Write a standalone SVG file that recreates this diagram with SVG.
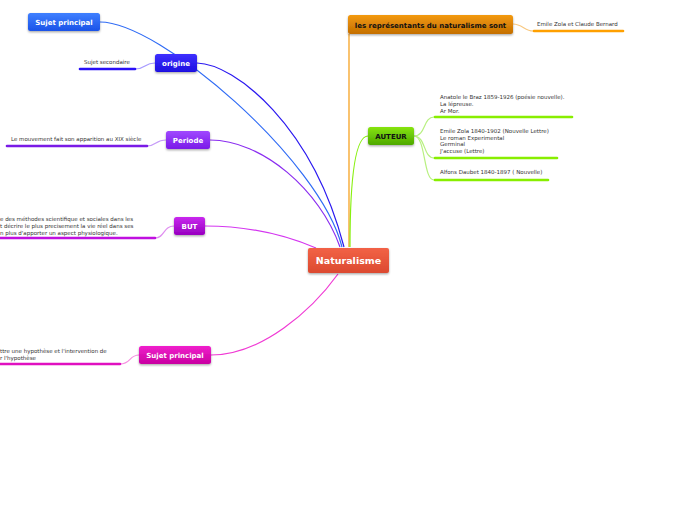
<svg xmlns="http://www.w3.org/2000/svg" width="696" height="520" viewBox="0 0 696 520">
<defs>
<filter id="sh" x="-20%" y="-30%" width="140%" height="170%"><feDropShadow dx="0" dy="1.2" stdDeviation="0.9" flood-color="#000" flood-opacity="0.35"/></filter>
<linearGradient id="gBlue" x1="0" y1="0" x2="0" y2="1"><stop offset="0" stop-color="#3f80ff"/><stop offset="1" stop-color="#1a52e8"/></linearGradient>
<linearGradient id="gOri" x1="0" y1="0" x2="0" y2="1"><stop offset="0" stop-color="#3d30ff"/><stop offset="1" stop-color="#1d0fe0"/></linearGradient>
<linearGradient id="gPer" x1="0" y1="0" x2="0" y2="1"><stop offset="0" stop-color="#a048ff"/><stop offset="1" stop-color="#7a1ae8"/></linearGradient>
<linearGradient id="gBut" x1="0" y1="0" x2="0" y2="1"><stop offset="0" stop-color="#c828ee"/><stop offset="1" stop-color="#9800c0"/></linearGradient>
<linearGradient id="gSp" x1="0" y1="0" x2="0" y2="1"><stop offset="0" stop-color="#f020cc"/><stop offset="1" stop-color="#c800a0"/></linearGradient>
<linearGradient id="gOr" x1="0" y1="0" x2="0" y2="1"><stop offset="0" stop-color="#f39a10"/><stop offset="1" stop-color="#c46e00"/></linearGradient>
<linearGradient id="gGr" x1="0" y1="0" x2="0" y2="1"><stop offset="0" stop-color="#86e410"/><stop offset="1" stop-color="#4ea800"/></linearGradient>
<linearGradient id="gNat" x1="0" y1="0" x2="0" y2="1"><stop offset="0" stop-color="#f26246"/><stop offset="1" stop-color="#dc4a30"/></linearGradient>
</defs>
<style>
.nt{font-family:"DejaVu Sans","Liberation Sans",sans-serif;font-weight:bold;font-size:7px;fill:#fff;text-anchor:middle}
.big{font-size:9.5px}
.nd{fill:#111}
.sm{font-family:"DejaVu Sans","Liberation Sans",sans-serif;font-size:5.5px;fill:#333}
.c{fill:none;stroke-width:1.2}
.ul{fill:none;stroke-width:2.6;stroke-linecap:round}
</style>
<rect width="696" height="520" fill="#fff"/>
<g id="connectors">
<path class="c" stroke="#2f6bf5" d="M100,22 C160,22 320,160 342,247"/>
<path class="c" stroke="#2a18f0" stroke-width="1.5" d="M197,63 C235,64 312,125 344,247"/>
<path class="c" stroke="#8a2cf0" d="M210,140 C262,140 320,190 340,247"/>
<path class="c" stroke="#d436f0" d="M205,226 C250,226 288,236 316,248"/>
<path class="c" stroke="#f03ad4" d="M211,355 C262,355 312,310 338,274"/>
<path class="c" stroke="#f59a10" d="M349,34 L349,247"/>
<path class="c" stroke="#88f010" d="M368,136 C355,136 350,180 350,247"/>
<path class="c" stroke="#a89cff" d="M155,63 C144,63 146,69 135,69"/>
<path class="c" stroke="#c69cf8" d="M166,140 C155,140 157,146 147,146"/>
<path class="c" stroke="#e090f0" d="M174,226 C163,226 165,238 155,238"/>
<path class="c" stroke="#f590e0" d="M139,355 C129,355 131,364 120,364"/>
<path class="c" stroke="#f8c880" d="M513,24 C522,24 525,31 533,31"/>
<path class="c" stroke="#b8f080" d="M414,136 C426,136 423,117 434,117"/>
<path class="c" stroke="#b8f080" d="M414,136 C426,136 423,158 434,158"/>
<path class="c" stroke="#b8f080" d="M414,136 C426,136 423,180 434,180"/>
<path class="ul" stroke="#2a10f8" d="M80,69 L135,69"/>
<path class="ul" stroke="#7a1ae6" d="M7,146 L147,146"/>
<path class="ul" stroke="#c010e0" d="M-2,238 L155,238"/>
<path class="ul" stroke="#e010c0" d="M-2,364 L120,364"/>
<path class="ul" stroke="#ffa000" d="M534,31 L623,31"/>
<path class="ul" stroke="#88ee00" d="M435,117 L572,117"/>
<path class="ul" stroke="#88ee00" d="M435,158 L557,158"/>
<path class="ul" stroke="#88ee00" d="M435,180 L548,180"/>
</g>
<g id="naturalisme"><rect x="308" y="248" width="81" height="25" rx="2" fill="url(#gNat)" filter="url(#sh)"/><text class="nt big" x="348.5" y="264">Naturalisme</text></g>
<g id="sujet-principal-1"><rect x="28" y="13" width="72" height="18" rx="2.5" fill="url(#gBlue)" filter="url(#sh)"/><text class="nt" x="64" y="25">Sujet principal</text></g>
<g id="origine"><rect x="155" y="54" width="42" height="18" rx="2.5" fill="url(#gOri)" filter="url(#sh)"/><text class="nt" x="176" y="66">origine</text></g>
<g id="sujet-secondaire"><text class="sm" x="84" y="64">Sujet secondaire</text></g>
<g id="periode"><rect x="166" y="131" width="44" height="18" rx="2.5" fill="url(#gPer)" filter="url(#sh)"/><text class="nt" x="188" y="143">Periode</text></g>
<g id="periode-note"><text class="sm" x="11" y="141">Le mouvement fait son apparition au XIX siècle</text></g>
<g id="but"><rect x="174" y="217" width="31" height="18" rx="2.5" fill="url(#gBut)" filter="url(#sh)"/><text class="nt" x="189.5" y="229">BUT</text></g>
<g id="but-note"><text class="sm"><tspan x="0" y="221">e des méthodes scientifique et sociales dans les</tspan><tspan x="0" y="228">t décrire le plus precisement la vie réel dans ses</tspan><tspan x="0" y="234.5">n plus d'apporter un aspect physiologique.</tspan></text></g>
<g id="sujet-principal-2"><rect x="139" y="346" width="72" height="18" rx="2.5" fill="url(#gSp)" filter="url(#sh)"/><text class="nt" x="175" y="358">Sujet principal</text></g>
<g id="sujet-principal-2-note"><text class="sm"><tspan x="0" y="353">ttre une hypothèse et l'intervention de</tspan><tspan x="0" y="359.5">r l'hypothèse</tspan></text></g>
<g id="representants"><rect x="348" y="15" width="165" height="19" rx="2.5" fill="url(#gOr)" filter="url(#sh)"/><text class="nt nd" x="430.5" y="27.5">les représentants du naturalisme sont</text></g>
<g id="zola-bernard"><text class="sm" x="537" y="26">Emile Zola et Claude Bernard</text></g>
<g id="auteur"><rect x="368" y="127" width="46" height="18" rx="2.5" fill="url(#gGr)" filter="url(#sh)"/><text class="nt nd" x="391" y="139">AUTEUR</text></g>
<g id="le-braz"><text class="sm"><tspan x="440" y="99">Anatole le Braz 1859-1926 (poésie nouvelle).</tspan><tspan x="440" y="106">La lépreuse.</tspan><tspan x="440" y="112.5">Ar Mor.</tspan></text></g>
<g id="zola"><text class="sm"><tspan x="440" y="133">Emile Zola 1840-1902 (Nouvelle Lettre)</tspan><tspan x="440" y="140">Le roman Experimental</tspan><tspan x="440" y="146">Germinal</tspan><tspan x="440" y="153">J'accuse (Lettre)</tspan></text></g>
<g id="daubet"><text class="sm" x="440" y="174">Alfons Daubet 1840-1897 ( Nouvelle)</text></g>
</svg>
